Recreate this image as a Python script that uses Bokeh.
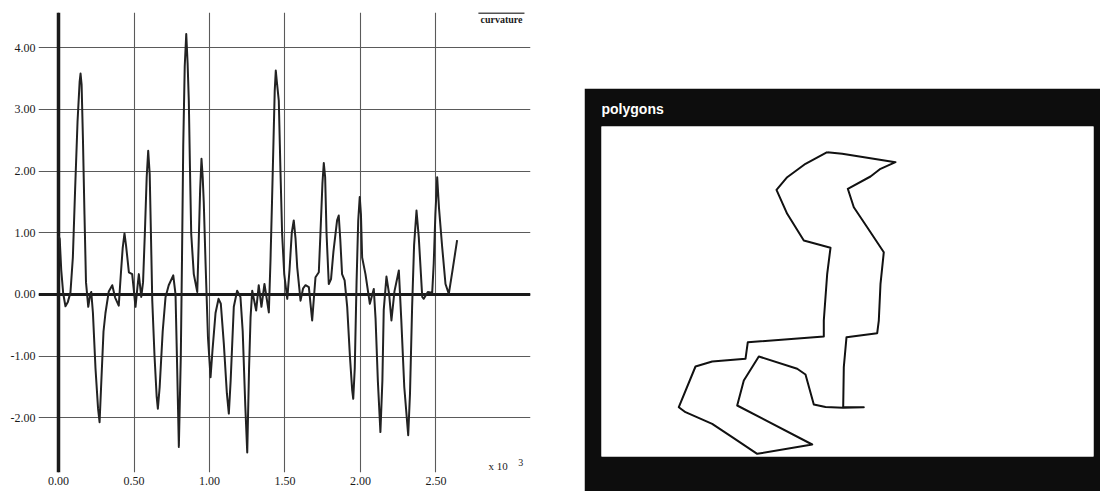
from bokeh.plotting import figure
from bokeh.layouts import row, column
from bokeh.models import (Range1d, FixedTicker, CustomJSTickFormatter, Grid, Label,
                          BoxAnnotation, Spacer, ColumnDataSource)
from bokeh.embed import file_html
from bokeh.resources import INLINE

# ---- curvature signal (x in units of 10^3 samples) ----
curv_x = [0.000, 0.008, 0.018, 0.031, 0.046, 0.062, 0.079, 0.095, 0.110, 0.126,
          0.140, 0.146, 0.153, 0.162, 0.172, 0.182, 0.197, 0.210, 0.217, 0.228,
          0.245, 0.262, 0.272, 0.282, 0.298, 0.311, 0.333, 0.356, 0.375, 0.399,
          0.412, 0.425, 0.437, 0.447, 0.458, 0.466, 0.488, 0.510, 0.522, 0.532,
          0.548, 0.560, 0.572, 0.584, 0.594, 0.604, 0.612, 0.621, 0.636, 0.650,
          0.658, 0.670, 0.690, 0.709, 0.730, 0.760, 0.775, 0.786, 0.797, 0.810,
          0.818, 0.826, 0.836, 0.846, 0.855, 0.863, 0.871, 0.879, 0.896, 0.919,
          0.928, 0.938, 0.947, 0.955, 0.962, 0.974, 0.990, 1.007, 1.020, 1.040,
          1.060, 1.075, 1.095, 1.115, 1.128, 1.140, 1.161, 1.183, 1.205, 1.220,
          1.237, 1.250, 1.262, 1.272, 1.283, 1.309, 1.326, 1.344, 1.364, 1.393,
          1.404, 1.414, 1.424, 1.432, 1.439, 1.446, 1.459, 1.470, 1.481, 1.495,
          1.515, 1.530, 1.545, 1.558, 1.570, 1.581, 1.603, 1.620, 1.636, 1.658,
          1.680, 1.702, 1.724, 1.735, 1.748, 1.757, 1.766, 1.775, 1.790, 1.805,
          1.821, 1.845, 1.856, 1.866, 1.878, 1.895, 1.912, 1.930, 1.945, 1.952,
          1.962, 1.974, 1.985, 1.995, 2.003, 2.011, 2.033, 2.062, 2.088, 2.100,
          2.115, 2.132, 2.145, 2.154, 2.172, 2.190, 2.205, 2.225, 2.254, 2.270,
          2.290, 2.316, 2.328, 2.342, 2.355, 2.371, 2.386, 2.409, 2.419, 2.446,
          2.475, 2.485, 2.496, 2.508, 2.520, 2.541, 2.563, 2.585, 2.610, 2.640]
curv_y = [0.95, 0.90, 0.40, 0.02, -0.19, -0.12, 0.03, 0.60, 1.70, 2.80,
          3.45, 3.58, 3.40, 2.50, 1.30, 0.20, -0.20, 0.00, 0.04, -0.30,
          -1.20, -1.85, -2.07, -1.50, -0.60, -0.30, 0.05, 0.15, -0.05, -0.18,
          0.30, 0.75, 0.99, 0.80, 0.55, 0.36, 0.33, -0.20, 0.10, 0.33,
          -0.04, 0.20, 1.00, 1.90, 2.33, 1.95, 1.00, -0.10, -1.00, -1.65,
          -1.85, -1.50, -0.60, -0.04, 0.15, 0.31, 0.00, -1.20, -2.47, -1.00,
          0.60, 2.40, 3.70, 4.22, 3.75, 3.14, 2.00, 0.98, 0.33, 0.04,
          0.80, 1.70, 2.20, 1.90, 1.50, 0.50, -0.70, -1.34, -0.90, -0.30,
          -0.07, -0.15, -0.80, -1.60, -1.93, -1.40, -0.20, 0.06, -0.04, -0.60,
          -1.80, -2.56, -1.20, -0.37, 0.06, -0.26, 0.15, -0.20, 0.17, -0.29,
          0.55, 1.50, 2.50, 3.30, 3.63, 3.45, 3.14, 2.00, 0.98, 0.33,
          -0.07, 0.40, 1.00, 1.20, 0.90, 0.44, -0.10, 0.10, 0.15, 0.12,
          -0.42, 0.28, 0.36, 1.00, 1.80, 2.13, 1.90, 1.00, 0.17, 0.25,
          0.70, 1.20, 1.28, 0.90, 0.33, 0.23, -0.20, -1.00, -1.55, -1.69,
          -1.20, 0.20, 1.20, 1.58, 1.30, 0.60, 0.33, -0.15, 0.09, -0.40,
          -1.40, -2.23, -1.40, -0.25, 0.29, 0.00, -0.42, 0.05, 0.39, -0.40,
          -1.50, -2.28, -1.60, -0.20, 0.80, 1.36, 0.93, -0.04, -0.07, 0.04,
          0.03, 0.50, 1.30, 1.90, 1.40, 0.77, 0.17, 0.01, 0.40, 0.88]

x_ticks = [0.0, 0.5, 1.0, 1.5, 2.0, 2.5]
y_ticks = [-2.0, -1.0, 0.0, 1.0, 2.0, 3.0, 4.0]
series_name = "curvature"
x_scale_note = "x 10"
x_scale_exp = "3"

# ---- outline traced by the polygon view ----
poly_x = [225.7, 240.7, 294.0, 279.0, 269.0, 246.3, 252.3, 265.7, 282.3, 279.0,
          277.3, 275.7, 245.0, 242.3, 241.7, 262.3, 241.7, 224.0, 212.3, 204.0,
          195.7, 157.3, 142.3, 135.7, 210.7, 155.7, 130.7, 110.7, 84.0, 77.3,
          94.0, 110.7, 144.0, 146.3, 222.3, 222.3, 225.7, 229.0, 202.3, 185.7,
          175.0, 185.7, 204.0, 225.7]
poly_y = [304.3, 302.7, 294.3, 287.7, 280.0, 267.7, 249.3, 229.3, 204.3, 172.7,
          136.0, 123.3, 119.3, 89.3, 49.5, 49.3, 48.7, 49.5, 52.0, 82.0,
          87.7, 100.0, 76.0, 51.0, 12.0, 2.7, 19.3, 32.7, 44.3, 49.3,
          90.0, 95.0, 97.7, 114.3, 120.0, 136.0, 182.7, 208.7, 216.0, 242.7,
          266.7, 279.3, 292.7, 304.3]
panel_title = "polygons"

SERIF = "Liberation Serif"
INK = "#1a1a1a"
GRID = "#5a5a5a"

# plotting window: grid spans X_LO..X_HI, the extra room on the right holds the key
X_LO, X_HI, X_ROOM = -0.1325, 2.768, 3.126
Y_LO, Y_HI = -2.885, 4.570

# ---------------- curvature plot ----------------
p = figure(width=584, height=491, output_backend="svg", toolbar_location=None,
           x_range=Range1d(X_LO, X_ROOM), y_range=Range1d(Y_LO, Y_HI),
           min_border_left=38, min_border_right=54, min_border_top=12,
           min_border_bottom=19)
p.outline_line_color = None
p.background_fill_color = "white"
p.border_fill_color = "white"

fmt = CustomJSTickFormatter(code="return tick.toFixed(2);")
for ax, ticks in ((p.xaxis[0], x_ticks), (p.yaxis[0], y_ticks)):
    ax.ticker = FixedTicker(ticks=ticks)
    ax.formatter = fmt
    ax.axis_line_color = None
    ax.major_tick_line_color = None
    ax.minor_tick_line_color = None
    ax.major_tick_in = 0
    ax.major_tick_out = 0
    ax.major_label_text_font = SERIF
    ax.major_label_text_font_size = "12px"
    ax.major_label_text_color = INK
p.xaxis.major_label_standoff = 4
p.yaxis.major_label_standoff = 3

p.xgrid.ticker = FixedTicker(ticks=x_ticks)
p.ygrid.ticker = FixedTicker(ticks=y_ticks)
p.ygrid.bounds = (X_LO, X_HI)
p.grid.grid_line_color = GRID
p.grid.grid_line_width = 1.1

# heavy lines through the origin on both axes
p.add_layout(Grid(dimension=0, ticker=FixedTicker(ticks=[0.0]),
                  grid_line_color=INK, grid_line_width=3.5))
p.add_layout(Grid(dimension=1, ticker=FixedTicker(ticks=[0.0]), bounds=(X_LO, X_HI),
                  grid_line_color=INK, grid_line_width=3))

src = ColumnDataSource(dict(x=curv_x, y=curv_y))
p.line("x", "y", source=src, line_color="#222222", line_width=2, line_join="round")

# series key: a bar with the series name underneath
p.add_layout(BoxAnnotation(left=2.781, right=3.086, top=4.575, bottom=4.548,
                           fill_color=INK, fill_alpha=1, line_color=None))
p.add_layout(Label(x=2.934, y=4.449, text=series_name, text_font=SERIF,
                   text_font_size="10px", text_font_style="bold", text_color=INK,
                   text_align="center", text_baseline="middle"))

# axis multiplier, tucked into the lower right corner
p.add_layout(Label(x=2.848, y=-2.87, text=x_scale_note, text_font=SERIF,
                   text_font_size="11px", text_color=INK, text_baseline="bottom"))
p.add_layout(Label(x=3.045, y=-2.72, text=x_scale_exp, text_font=SERIF,
                   text_font_size="10px", text_color=INK, text_baseline="middle"))

# ---------------- polygon panel ----------------
q = figure(width=516, height=403, output_backend="svg", toolbar_location=None,
           x_range=Range1d(0, 492), y_range=Range1d(0, 330),
           min_border_left=17, min_border_right=7, min_border_top=38,
           min_border_bottom=35, title=panel_title)
q.axis.visible = False
q.grid.visible = False
q.outline_line_color = None
q.background_fill_color = "white"
q.border_fill_color = "#0d0d0d"
q.title.text_color = "white"
q.title.text_font = "Liberation Sans"
q.title.text_font_style = "bold"
q.title.text_font_size = "14px"
q.title.align = "left"
q.title.offset = 0
q.title.standoff = 19

q.line(poly_x, poly_y, line_color="#111111", line_width=2, line_join="round")

layout = row(p, column(Spacer(width=516, height=88), q))

open("out.html", "w").write(file_html(layout, INLINE))
